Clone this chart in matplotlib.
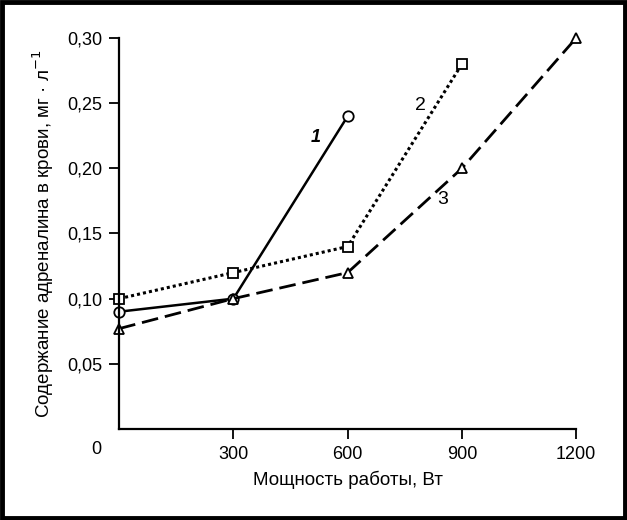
import matplotlib.pyplot as plt
from matplotlib.patches import Rectangle

plt.rcParams['font.family'] = ['Liberation Sans', 'DejaVu Sans']

# мощность работы, Вт
x1 = [0, 300, 600]
y1 = [0.09, 0.10, 0.24]

x2 = [0, 300, 600, 900]
y2 = [0.10, 0.12, 0.14, 0.28]

x3 = [0, 300, 600, 900, 1200]
y3 = [0.077, 0.10, 0.12, 0.20, 0.30]

xticks = [300, 600, 900, 1200]
yticks = [0.05, 0.10, 0.15, 0.20, 0.25, 0.30]
ytick_labels = ['0,05', '0,10', '0,15', '0,20', '0,25', '0,30']

fig = plt.figure(figsize=(6.27, 5.2), dpi=100)
ax = fig.add_axes([0.190, 0.175, 0.729, 0.752])

mk = dict(markerfacecolor='white', markeredgecolor='black',
          markeredgewidth=1.3, clip_on=False, color='black')
ax.plot(x1, y1, '-', marker='o', linewidth=1.8, markersize=7.5, **mk)
ax.plot(x2, y2, linestyle=(0, (1, 1)), marker='s', linewidth=2.2, markersize=6.5, **mk)
ax.plot(x3, y3, linestyle=(0, (6, 2.5)), marker='^', linewidth=2.0, markersize=7.5, **mk)

ax.text(515, 0.224, '1', fontsize=13, style='italic', weight='bold', ha='center', va='center')
ax.text(790, 0.248, '2', fontsize=14, ha='center', va='center')
ax.text(850, 0.176, '3', fontsize=14, ha='center', va='center')

ax.set_xlim(0, 1200)
ax.set_ylim(0, 0.30)
ax.set_xticks(xticks)
ax.set_xticklabels([str(t) for t in xticks])
ax.set_yticks(yticks)
ax.set_yticklabels(ytick_labels)
ax.tick_params(axis='both', direction='out', length=7, width=1.3, labelsize=13, pad=5)
ax.text(-60, -0.009, '0', fontsize=13, ha='center', va='top')

for s in ['top', 'right']:
    ax.spines[s].set_visible(False)
for s in ['left', 'bottom']:
    ax.spines[s].set_linewidth(1.6)

ax.set_xlabel('Мощность работы, Вт', fontsize=13.5, labelpad=6)
ax.set_ylabel('Содержание адреналина в крови, мг · л$^{-1}$', fontsize=13.5, labelpad=8)

fig.patches.append(Rectangle((0.003, 0.004), 0.994, 0.992, transform=fig.transFigure,
                             fill=False, edgecolor='black', linewidth=3.5))

fig.savefig('out.png', dpi=100)
